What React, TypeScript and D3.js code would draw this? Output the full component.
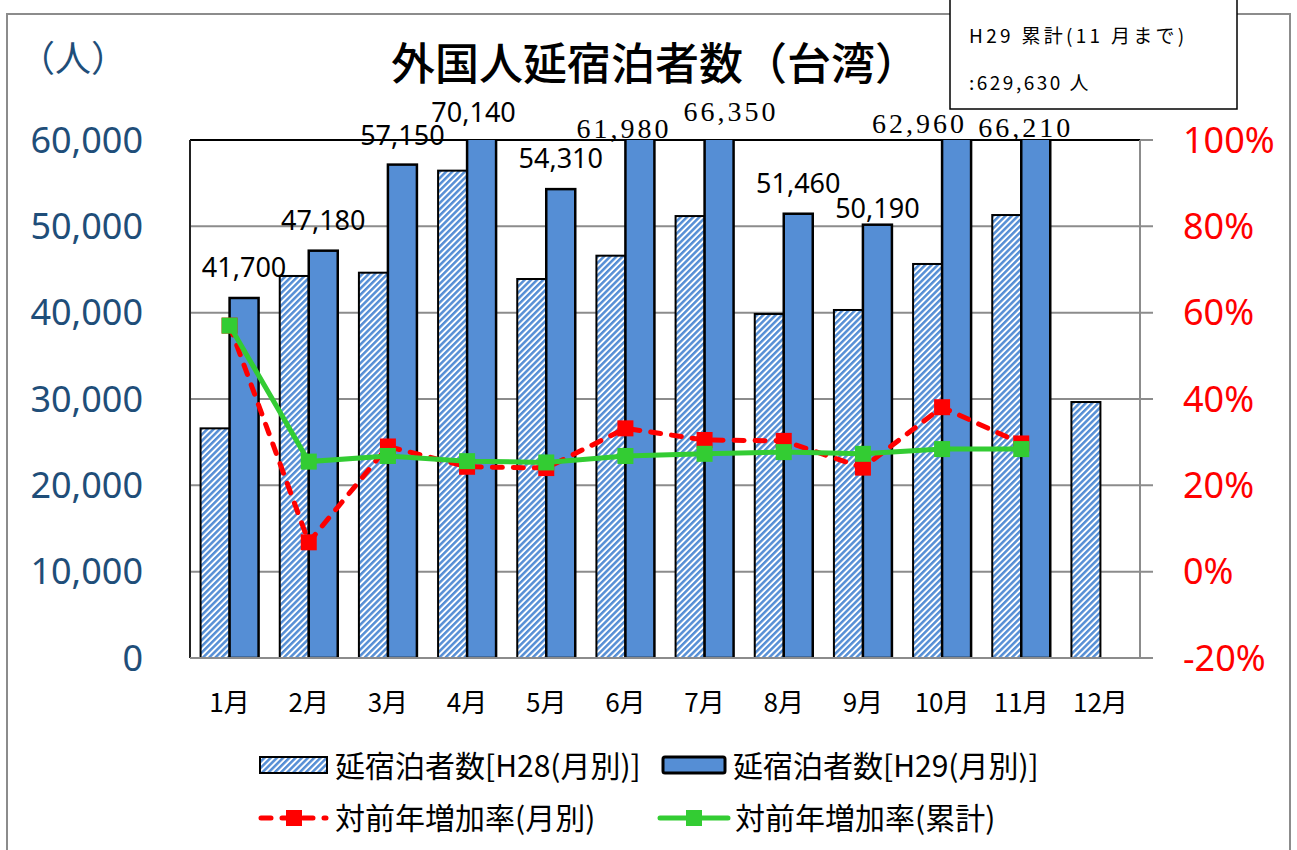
import * as d3 from 'd3';

// months on the category axis
const MONTHS = ['1月', '2月', '3月', '4月', '5月', '6月', '7月', '8月', '9月', '10月', '11月', '12月'];
// 延宿泊者数 H28
const H28 = [26600, 44250, 44630, 56450, 43900, 46600, 51190, 39850, 40310, 45640, 51310, 29650];
// 延宿泊者数 H29 (data labels)
const H29 = [41700, 47180, 57150, 70140, 54310, 61980, 66350, 51460, 50190, 62960, 66210];
// 対前年増加率 (月別 / 累計), fractions
const RATE_MONTH = [0.57, 0.068, 0.29, 0.243, 0.24, 0.332, 0.305, 0.303, 0.241, 0.381, 0.297];
const RATE_CUM = [0.57, 0.255, 0.268, 0.256, 0.253, 0.268, 0.273, 0.277, 0.273, 0.284, 0.284];
const LEFT_TICKS = [0, 10000, 20000, 30000, 40000, 50000, 60000];
const RIGHT_TICKS = [-0.2, 0, 0.2, 0.4, 0.6, 0.8, 1.0];

// manual label nudges (dx, gap above bar top) and which labels render in serif
const LABEL_DX = [0, 0, 0, -8, 0, -16, 12, 0, 0, -37, -10];
const LABEL_GAP = [21, 21, 20, 18, 21, 2, 19, 21, 7, 7, 3];
const LABEL_SERIF = [false, false, false, false, false, true, true, false, false, true, true];

const W = 1297, H = 850;
const L = 190, R = 1140, T = 140, B = 658;
const SANS = '"Noto Sans", "Noto Sans CJK JP", sans-serif';
const JP = '"Noto Sans CJK JP", "Noto Sans", sans-serif';
const SERIF = '"Liberation Serif", "DejaVu Serif", serif';
const BLUE = '#558ed5';
const pct = (t: number) => `${Math.round(t * 100)}%`;

export default function App() {
  const x = d3.scaleBand<string>().domain(MONTHS).range([L, R]);
  const bw = 29;
  const yL = d3.scaleLinear().domain([0, 60000]).range([B, T]);
  const yR = d3.scaleLinear().domain([-0.2, 1.0]).range([B, T]);
  const cx = (i: number) => (x(MONTHS[i]) as number) + x.bandwidth() / 2;

  const line = d3.line<number>().x((_, i) => cx(i)).y((d) => yR(d));

  return (
    <svg width={W} height={H} style={{ position: 'absolute', left: 0, top: 0, background: '#fff' }}>
      <defs>
        <pattern id="hatch" width={4.4} height={4.4} patternUnits="userSpaceOnUse" patternTransform="rotate(45)">
          <rect width={4.4} height={4.4} fill="#fff" />
          <rect width={2.5} height={4.4} fill={BLUE} />
        </pattern>
        <clipPath id="plot">
          <rect x={0} y={T} width={W} height={B - T + 1} />
        </clipPath>
      </defs>

      {/* outer chart frame */}
      <rect x={7} y={14} width={1283} height={850} fill="#fff" stroke="#8c8c8c" strokeWidth={2} />

      {/* gridlines */}
      {LEFT_TICKS.map((t) => (
        <line key={t} x1={L} x2={R + 13} y1={yL(t)} y2={yL(t)} stroke="#8c8c8c" strokeWidth={2} />
      ))}
      {/* plot border */}
      <line x1={L} x2={R} y1={T} y2={T} stroke="#000" strokeWidth={2} />
      <line x1={L} x2={L} y1={T} y2={B} stroke="#222" strokeWidth={2} />
      <line x1={R} x2={R} y1={T} y2={B} stroke="#8c8c8c" strokeWidth={2} />

      {/* bars */}
      <g clipPath="url(#plot)">
        {H28.map((v, i) => (
          <rect key={'a' + i} x={cx(i) - bw} y={yL(v)} width={bw} height={B - yL(v)}
            fill="url(#hatch)" stroke="#000" strokeWidth={2} />
        ))}
        {H29.map((v, i) => {
          const top = yL(Math.min(v, 60000));
          return (
            <g key={'b' + i}>
              <rect x={cx(i) + 2} y={B} width={bw} height={3} fill="#c8c8c8" />
              <rect x={cx(i)} y={top - (v > 60000 ? 3 : 0)} width={bw} height={B - top + (v > 60000 ? 3 : 0)}
                fill={BLUE} stroke="#000" strokeWidth={2.5} />
            </g>
          );
        })}
      </g>
      <line x1={L} x2={R} y1={B} y2={B} stroke="#8c8c8c" strokeWidth={2} />

      {/* data labels */}
      {H29.map((v, i) => {
        const top = yL(Math.min(v, 60000));
        const serif = LABEL_SERIF[i];
        return (
          <text key={'l' + i} x={cx(i) + bw / 2 + LABEL_DX[i]} y={top - LABEL_GAP[i]} textAnchor="middle"
            fontFamily={serif ? SERIF : SANS} fontSize={serif ? 28 : 27}
            letterSpacing={serif ? 3 : 0} fill="#000">
            {d3.format(',')(v)}
          </text>
        );
      })}

      {/* lines */}
      <path d={line(RATE_MONTH) || ''} fill="none" stroke="#ff0000" strokeWidth={5}
        strokeDasharray="10,11" strokeLinecap="round" />
      {RATE_MONTH.map((v, i) => (
        <rect key={'rm' + i} x={cx(i) - 8} y={yR(v) - 8} width={16} height={16} fill="#ff0000" />
      ))}
      <path d={line(RATE_CUM) || ''} fill="none" stroke="#33cc33" strokeWidth={5} />
      {RATE_CUM.map((v, i) => (
        <rect key={'rc' + i} x={cx(i) - 8} y={yR(v) - 8} width={16} height={16} fill="#33cc33" />
      ))}

      {/* left axis labels */}
      {LEFT_TICKS.map((t) => (
        <text key={'yl' + t} x={143} y={yL(t)} dy="0.35em" textAnchor="end" fontFamily={SANS}
          fontSize={36} fill="#1f4e79">{d3.format(',')(t)}</text>
      ))}
      {/* right axis labels */}
      {RIGHT_TICKS.map((t) => (
        <text key={'yr' + t} x={1183} y={yR(t)} dy="0.35em" textAnchor="start" fontFamily={SANS}
          fontSize={36} fill="#ff0000">{pct(t)}</text>
      ))}
      {/* category labels */}
      {MONTHS.map((m, i) => (
        <text key={m} x={cx(i)} y={712} textAnchor="middle" fontFamily={JP} fontSize={26} fill="#000">{m}</text>
      ))}

      {/* unit and title */}
      <text x={19} y={72} fontFamily={JP} fontSize={36} fill="#1f4e79">（人）</text>
      <text x={655} y={80} textAnchor="middle" fontFamily={JP} fontSize={44} fontWeight={500} fill="#000">
        外国人延宿泊者数（台湾）
      </text>

      {/* cumulative note box */}
      <rect x={950} y={-2} width={287} height={111} fill="#fff" stroke="#000" strokeWidth={1.5} />
      <text x={969} y={43} fontFamily={JP} fontSize={19} letterSpacing={3.3} fill="#000">H29 累計(11 月まで)</text>
      <text x={969} y={90} fontFamily={JP} fontSize={19} letterSpacing={2.5} fill="#000">:629,630 人</text>

      {/* legend */}
      <rect x={260} y={757} width={67} height={16} fill="url(#hatch)" stroke="#000" strokeWidth={2} />
      <text x={335} y={766} dy="0.36em" fontFamily={JP} fontSize={30} fill="#000">延宿泊者数[H28(月別)]</text>
      <rect x={663} y={757} width={62} height={16} rx={2} fill={BLUE} stroke="#000" strokeWidth={3} />
      <text x={733} y={766} dy="0.36em" fontFamily={JP} fontSize={30} fill="#000">延宿泊者数[H29(月別)]</text>

      <line x1={261} x2={326} y1={818} y2={818} stroke="#ff0000" strokeWidth={5} strokeDasharray="10,11" strokeLinecap="round" />
      <rect x={286} y={810} width={16} height={16} fill="#ff0000" />
      <text x={335} y={818} dy="0.36em" fontFamily={JP} fontSize={30} fill="#000">対前年増加率(月別)</text>
      <line x1={660} x2={728} y1={818} y2={818} stroke="#33cc33" strokeWidth={5} strokeLinecap="round" />
      <rect x={686} y={810} width={16} height={16} fill="#33cc33" />
      <text x={735} y={818} dy="0.36em" fontFamily={JP} fontSize={30} fill="#000">対前年増加率(累計)</text>
    </svg>
  );
}
